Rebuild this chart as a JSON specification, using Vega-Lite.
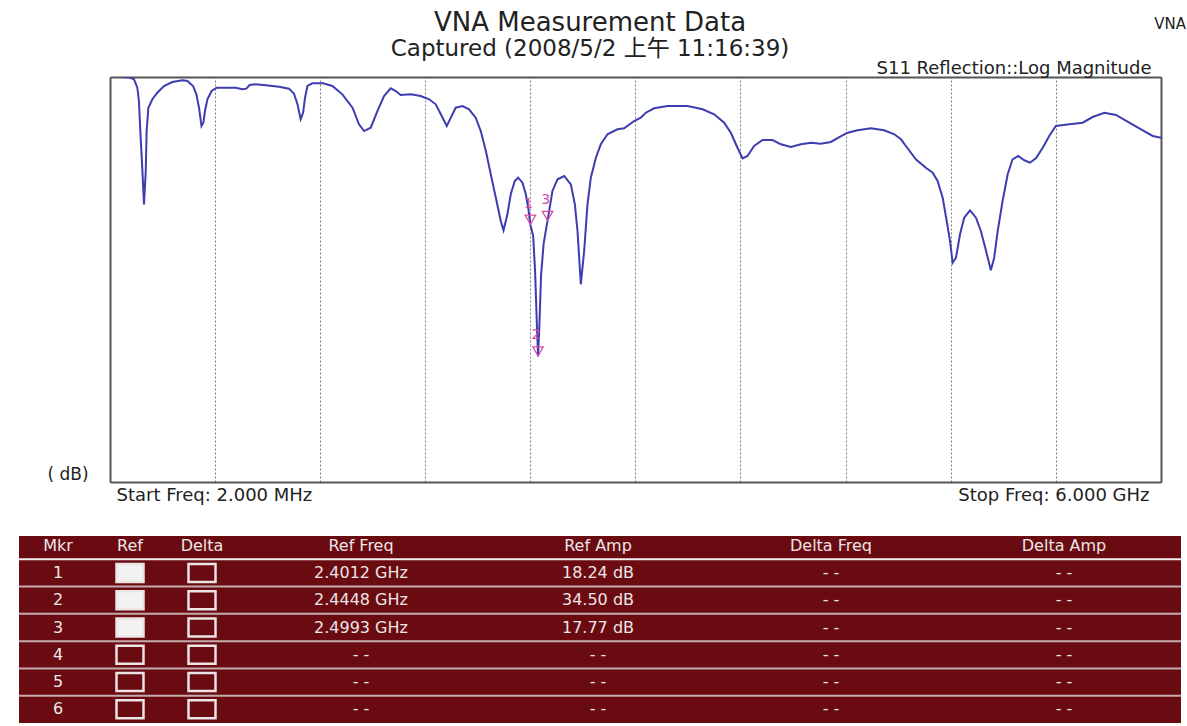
{
  "$schema": "https://vega.github.io/schema/vega-lite/v6.json",
  "background": "white",
  "padding": {"left": 18, "top": 10, "right": 0, "bottom": 0},
  "config": {"font": "DejaVu Sans", "title": {"fontWeight": "normal", "color": "#222"}},
  "title": {"text": "VNA", "anchor": "end", "frame": "bounds", "fontSize": 15, "color": "#222", "offset": -22, "dx": 4},
  "spacing": 32,
  "datasets": {
    "trace": [
      {"f": 0.074, "db": 0.0}, {"f": 0.110, "db": 0.05}, {"f": 0.139, "db": 0.28}, {"f": 0.158, "db": 1.32}, {"f": 0.167, "db": 2.96},
      {"f": 0.177, "db": 7.49}, {"f": 0.187, "db": 11.6}, {"f": 0.196, "db": 15.72}, {"f": 0.206, "db": 11.6}, {"f": 0.211, "db": 6.67},
      {"f": 0.221, "db": 3.79}, {"f": 0.244, "db": 2.75}, {"f": 0.272, "db": 1.94}, {"f": 0.310, "db": 1.11}, {"f": 0.358, "db": 0.62},
      {"f": 0.415, "db": 0.41}, {"f": 0.444, "db": 0.49}, {"f": 0.476, "db": 1.11}, {"f": 0.495, "db": 2.14}, {"f": 0.510, "db": 3.79},
      {"f": 0.524, "db": 6.05}, {"f": 0.535, "db": 5.64}, {"f": 0.544, "db": 4.2}, {"f": 0.558, "db": 2.75}, {"f": 0.582, "db": 1.73},
      {"f": 0.611, "db": 1.32}, {"f": 0.662, "db": 1.32}, {"f": 0.719, "db": 1.32}, {"f": 0.758, "db": 1.52}, {"f": 0.780, "db": 1.44},
      {"f": 0.799, "db": 0.99}, {"f": 0.833, "db": 0.9}, {"f": 0.891, "db": 1.02}, {"f": 0.967, "db": 1.2}, {"f": 1.024, "db": 1.44},
      {"f": 1.052, "db": 2.06}, {"f": 1.072, "db": 3.37}, {"f": 1.090, "db": 5.22}, {"f": 1.104, "db": 4.41}, {"f": 1.115, "db": 2.56},
      {"f": 1.129, "db": 1.11}, {"f": 1.157, "db": 0.78}, {"f": 1.218, "db": 0.78}, {"f": 1.271, "db": 1.11}, {"f": 1.328, "db": 2.14},
      {"f": 1.386, "db": 3.79}, {"f": 1.423, "db": 5.84}, {"f": 1.452, "db": 6.67}, {"f": 1.490, "db": 6.26}, {"f": 1.528, "db": 4.2},
      {"f": 1.566, "db": 2.35}, {"f": 1.604, "db": 1.4}, {"f": 1.633, "db": 1.73}, {"f": 1.661, "db": 2.22}, {"f": 1.718, "db": 2.14},
      {"f": 1.775, "db": 2.35}, {"f": 1.823, "db": 2.75}, {"f": 1.861, "db": 3.37}, {"f": 1.890, "db": 4.6}, {"f": 1.924, "db": 6.05},
      {"f": 1.947, "db": 5.02}, {"f": 1.975, "db": 3.79}, {"f": 2.014, "db": 3.58}, {"f": 2.051, "db": 3.99}, {"f": 2.089, "db": 5.02},
      {"f": 2.118, "db": 6.67}, {"f": 2.147, "db": 9.14}, {"f": 2.175, "db": 12.01}, {"f": 2.204, "db": 14.9}, {"f": 2.232, "db": 17.78},
      {"f": 2.248, "db": 18.93}, {"f": 2.270, "db": 16.95}, {"f": 2.289, "db": 14.48}, {"f": 2.312, "db": 12.84}, {"f": 2.331, "db": 12.43},
      {"f": 2.356, "db": 13.05}, {"f": 2.375, "db": 14.48}, {"f": 2.390, "db": 16.3}, {"f": 2.401, "db": 18.24}, {"f": 2.417, "db": 19.6},
      {"f": 2.428, "db": 24.0}, {"f": 2.438, "db": 30.5}, {"f": 2.445, "db": 34.5}, {"f": 2.452, "db": 31.0}, {"f": 2.462, "db": 24.5},
      {"f": 2.477, "db": 20.5}, {"f": 2.499, "db": 17.77}, {"f": 2.527, "db": 14.07}, {"f": 2.556, "db": 12.63}, {"f": 2.594, "db": 12.22},
      {"f": 2.632, "db": 13.25}, {"f": 2.655, "db": 15.72}, {"f": 2.670, "db": 19.01}, {"f": 2.689, "db": 25.59}, {"f": 2.708, "db": 21.48},
      {"f": 2.727, "db": 15.72}, {"f": 2.746, "db": 12.43}, {"f": 2.775, "db": 9.96}, {"f": 2.803, "db": 8.31}, {"f": 2.841, "db": 7.07},
      {"f": 2.898, "db": 6.46}, {"f": 2.936, "db": 6.33}, {"f": 2.993, "db": 5.43}, {"f": 3.031, "db": 5.02}, {"f": 3.060, "db": 4.41},
      {"f": 3.107, "db": 3.86}, {"f": 3.184, "db": 3.58}, {"f": 3.298, "db": 3.58}, {"f": 3.384, "db": 3.99}, {"f": 3.450, "db": 4.6},
      {"f": 3.507, "db": 5.64}, {"f": 3.545, "db": 6.88}, {"f": 3.583, "db": 8.73}, {"f": 3.612, "db": 10.04}, {"f": 3.640, "db": 9.75},
      {"f": 3.678, "db": 8.52}, {"f": 3.726, "db": 7.78}, {"f": 3.783, "db": 7.78}, {"f": 3.831, "db": 8.31}, {"f": 3.888, "db": 8.64},
      {"f": 3.945, "db": 8.31}, {"f": 4.002, "db": 8.11}, {"f": 4.059, "db": 8.23}, {"f": 4.116, "db": 8.02}, {"f": 4.164, "db": 7.41},
      {"f": 4.212, "db": 6.88}, {"f": 4.268, "db": 6.58}, {"f": 4.345, "db": 6.33}, {"f": 4.420, "db": 6.58}, {"f": 4.478, "db": 7.07},
      {"f": 4.516, "db": 7.69}, {"f": 4.544, "db": 8.52}, {"f": 4.601, "db": 10.16}, {"f": 4.658, "db": 11.2}, {"f": 4.697, "db": 11.81},
      {"f": 4.725, "db": 12.84}, {"f": 4.754, "db": 14.9}, {"f": 4.777, "db": 17.78}, {"f": 4.796, "db": 20.25}, {"f": 4.811, "db": 22.93},
      {"f": 4.830, "db": 22.31}, {"f": 4.853, "db": 19.42}, {"f": 4.877, "db": 17.37}, {"f": 4.910, "db": 16.46}, {"f": 4.944, "db": 17.37},
      {"f": 4.972, "db": 19.01}, {"f": 4.997, "db": 21.07}, {"f": 5.029, "db": 23.86}, {"f": 5.048, "db": 22.31}, {"f": 5.068, "db": 19.01},
      {"f": 5.096, "db": 15.31}, {"f": 5.125, "db": 12.01}, {"f": 5.153, "db": 10.16}, {"f": 5.185, "db": 9.75}, {"f": 5.220, "db": 10.28},
      {"f": 5.252, "db": 10.58}, {"f": 5.286, "db": 10.04}, {"f": 5.325, "db": 8.73}, {"f": 5.362, "db": 7.28}, {"f": 5.400, "db": 6.05},
      {"f": 5.477, "db": 5.84}, {"f": 5.553, "db": 5.64}, {"f": 5.610, "db": 4.94}, {"f": 5.677, "db": 4.41}, {"f": 5.743, "db": 4.69},
      {"f": 5.819, "db": 5.64}, {"f": 5.896, "db": 6.58}, {"f": 5.953, "db": 7.28}, {"f": 6.000, "db": 7.49}
    ],
    "markers": [
      {"mkr": "1", "freq": 2.4012, "amp": 18.24},
      {"mkr": "2", "freq": 2.4448, "amp": 34.50},
      {"mkr": "3", "freq": 2.4993, "amp": 17.77}
    ],
    "tbl": [
      {"row": "hdr", "mkr": "Mkr", "ref": "Ref", "delta": "Delta", "rf": "Ref Freq", "ra": "Ref Amp", "df": "Delta Freq", "da": "Delta Amp", "on": false},
      {"row": "1", "mkr": "1", "ref": "", "delta": "", "rf": "2.4012 GHz", "ra": "18.24 dB", "df": "- -", "da": "- -", "on": true},
      {"row": "2", "mkr": "2", "ref": "", "delta": "", "rf": "2.4448 GHz", "ra": "34.50 dB", "df": "- -", "da": "- -", "on": true},
      {"row": "3", "mkr": "3", "ref": "", "delta": "", "rf": "2.4993 GHz", "ra": "17.77 dB", "df": "- -", "da": "- -", "on": true},
      {"row": "4", "mkr": "4", "ref": "", "delta": "", "rf": "- -", "ra": "- -", "df": "- -", "da": "- -", "on": false},
      {"row": "5", "mkr": "5", "ref": "", "delta": "", "rf": "- -", "ra": "- -", "df": "- -", "da": "- -", "on": false},
      {"row": "6", "mkr": "6", "ref": "", "delta": "", "rf": "- -", "ra": "- -", "df": "- -", "da": "- -", "on": false}
    ]
  },
  "vconcat": [
    {
      "width": 1142,
      "height": 405,
      "view": {"stroke": null},
      "title": {"text": "VNA Measurement Data", "subtitle": "Captured  (2008/5/2 上午 11:16:39)", "anchor": "middle", "frame": "bounds", "fontSize": 26, "subtitleFontSize": 23, "subtitleFont": "DejaVu Sans, Noto Sans CJK SC", "subtitleColor": "#222", "subtitlePadding": 2, "offset": -2},
      "resolve": {"axis": {"x": "independent", "y": "independent"}},
      "layer": [
        {
          "data": {"name": "trace"},
          "mark": {"type": "line", "color": "#3d3db0", "strokeWidth": 2, "clip": true},
          "encoding": {
            "x": {"field": "f", "type": "quantitative", "scale": {"domain": [0.002, 6], "range": [91, 1142], "nice": false, "zero": false},
              "axis": {"orient": "bottom", "values": [0.002, 0.6, 1.2, 1.8, 2.4, 3.0, 3.6, 4.2, 4.8, 5.4, 6.0], "title": null,
                "domain": true, "domainColor": "#555", "domainWidth": 2, "ticks": false, "tickSize": 0,
                "grid": true, "gridColor": "#808080", "gridDash": [2, 2], "gridWidth": 1,
                "gridOpacity": {"condition": {"test": "datum.value < 0.01 || datum.value > 5.99", "value": 0}, "value": 1},
                "labelExpr": "datum.value < 0.01 ? 'Start Freq: 2.000 MHz' : (datum.value > 5.99 ? 'Stop Freq: 6.000 GHz' : '')",
                "labelAlign": {"condition": {"test": "datum.value < 0.01", "value": "left"}, "value": "right"},
                "labelOffset": {"condition": {"test": "datum.value < 0.01", "value": 6}, "value": -12},
                "labelFontSize": 18, "labelColor": "#222", "labelPadding": 4, "labelBaseline": "top", "labelOverlap": false, "labelBound": false, "labelFlush": false, "labelLimit": 600}},
            "y": {"field": "db", "type": "quantitative", "scale": {"domain": [0, 50], "reverse": true, "nice": false, "zero": false},
              "axis": {"orient": "left", "offset": -91, "title": "( dB)", "labels": false, "ticks": false, "domain": true, "domainColor": "#555", "domainWidth": 2, "grid": false,
                "titleAngle": 0, "titleAlign": "left", "titleBaseline": "middle", "titleX": -63, "titleY": 397, "titleFontSize": 17, "titleFontWeight": "normal", "titleColor": "#222"}}
          }
        },
        {
          "data": {"name": "markers"},
          "mark": {"type": "point", "shape": "triangle-down", "filled": false, "color": "#d94aa8", "size": 110, "strokeWidth": 1.3, "yOffset": -5, "opacity": 1},
          "encoding": {
            "x": {"field": "freq", "type": "quantitative", "scale": {"domain": [0.002, 6], "range": [91, 1142], "nice": false, "zero": false},
              "axis": {"orient": "top", "title": "S11 Reflection::Log Magnitude", "labels": false, "ticks": false, "domain": true, "domainColor": "#555", "domainWidth": 2, "grid": false,
                "titleX": 1132, "titleY": -4, "titleAlign": "right", "titleBaseline": "alphabetic", "titleAngle": 0, "titleFontSize": 18, "titleFontWeight": "normal", "titleColor": "#222"}},
            "y": {"field": "amp", "type": "quantitative", "scale": {"domain": [0, 50], "reverse": true, "nice": false, "zero": false},
              "axis": {"orient": "right", "title": null, "labels": false, "ticks": false, "domain": true, "domainColor": "#555", "domainWidth": 2, "grid": false}}
          }
        },
        {
          "data": {"name": "markers"},
          "mark": {"type": "text", "color": "#d94aa8", "fontSize": 14, "dy": -21, "dx": -2},
          "encoding": {
            "x": {"field": "freq", "type": "quantitative", "scale": {"domain": [0.002, 6], "range": [91, 1142], "nice": false, "zero": false}, "axis": null},
            "y": {"field": "amp", "type": "quantitative", "scale": {"domain": [0, 50], "reverse": true, "nice": false, "zero": false}, "axis": null},
            "text": {"field": "mkr"}
          }
        }
      ]
    },
    {
      "spacing": 0,
      "bounds": "flush",
      "hconcat": [
        {
          "width": 78, "height": 187, "view": {"fill": "#6a0b12", "stroke": null}, "data": {"name": "tbl"},
          "layer": [
            {"mark": {"type": "rule", "strokeWidth": 2}, "transform": [{"filter": "datum.row != '6'"}],
              "encoding": {"y": {"field": "row", "type": "ordinal", "bandPosition": 1, "scale": {"type": "band", "domain": ["hdr", "1", "2", "3", "4", "5", "6"], "range": [-4, 187], "paddingInner": 0, "paddingOuter": 0}, "axis": null},
                "color": {"condition": {"test": "datum.row == 'hdr'", "value": "#f4f0f0"}, "value": "#c4acae"}}},
            {"mark": {"type": "text", "fontSize": 16, "color": "#ece6e6"},
              "encoding": {"y": {"field": "row", "type": "ordinal", "scale": {"type": "band", "domain": ["hdr", "1", "2", "3", "4", "5", "6"], "range": [-4, 187], "paddingInner": 0, "paddingOuter": 0}, "axis": null}, "text": {"field": "mkr"}}}
          ]
        },
        {
          "width": 66, "height": 187, "view": {"fill": "#6a0b12", "stroke": null}, "data": {"name": "tbl"},
          "layer": [
            {"mark": {"type": "rule", "strokeWidth": 2}, "transform": [{"filter": "datum.row != '6'"}],
              "encoding": {"y": {"field": "row", "type": "ordinal", "bandPosition": 1, "scale": {"type": "band", "domain": ["hdr", "1", "2", "3", "4", "5", "6"], "range": [-4, 187], "paddingInner": 0, "paddingOuter": 0}, "axis": null},
                "color": {"condition": {"test": "datum.row == 'hdr'", "value": "#f4f0f0"}, "value": "#c4acae"}}},
            {"mark": {"type": "text", "fontSize": 16, "color": "#ece6e6"},
              "encoding": {"y": {"field": "row", "type": "ordinal", "scale": {"type": "band", "domain": ["hdr", "1", "2", "3", "4", "5", "6"], "range": [-4, 187], "paddingInner": 0, "paddingOuter": 0}, "axis": null}, "text": {"field": "ref"}}},
            {"mark": {"type": "point", "shape": "M-1.5,-1H1.5V1H-1.5Z", "size": 324, "strokeWidth": 2.5, "stroke": "#ece4e4", "filled": true, "opacity": 1},
              "transform": [{"filter": "datum.row != 'hdr'"}],
              "encoding": {"y": {"field": "row", "type": "ordinal", "scale": {"type": "band", "domain": ["hdr", "1", "2", "3", "4", "5", "6"], "range": [-4, 187], "paddingInner": 0, "paddingOuter": 0}, "axis": null},
                "fill": {"condition": {"test": "datum.on", "value": "#f2f2f2"}, "value": "transparent"}}}
          ]
        },
        {
          "width": 78, "height": 187, "view": {"fill": "#6a0b12", "stroke": null}, "data": {"name": "tbl"},
          "layer": [
            {"mark": {"type": "rule", "strokeWidth": 2}, "transform": [{"filter": "datum.row != '6'"}],
              "encoding": {"y": {"field": "row", "type": "ordinal", "bandPosition": 1, "scale": {"type": "band", "domain": ["hdr", "1", "2", "3", "4", "5", "6"], "range": [-4, 187], "paddingInner": 0, "paddingOuter": 0}, "axis": null},
                "color": {"condition": {"test": "datum.row == 'hdr'", "value": "#f4f0f0"}, "value": "#c4acae"}}},
            {"mark": {"type": "text", "fontSize": 16, "color": "#ece6e6"},
              "encoding": {"y": {"field": "row", "type": "ordinal", "scale": {"type": "band", "domain": ["hdr", "1", "2", "3", "4", "5", "6"], "range": [-4, 187], "paddingInner": 0, "paddingOuter": 0}, "axis": null}, "text": {"field": "delta"}}},
            {"mark": {"type": "point", "shape": "M-1.5,-1H1.5V1H-1.5Z", "size": 324, "strokeWidth": 2.5, "stroke": "#ece4e4", "fill": "transparent", "filled": true, "opacity": 1},
              "transform": [{"filter": "datum.row != 'hdr'"}],
              "encoding": {"y": {"field": "row", "type": "ordinal", "scale": {"type": "band", "domain": ["hdr", "1", "2", "3", "4", "5", "6"], "range": [-4, 187], "paddingInner": 0, "paddingOuter": 0}, "axis": null}}}
          ]
        },
        {
          "width": 240, "height": 187, "view": {"fill": "#6a0b12", "stroke": null}, "data": {"name": "tbl"},
          "layer": [
            {"mark": {"type": "rule", "strokeWidth": 2}, "transform": [{"filter": "datum.row != '6'"}],
              "encoding": {"y": {"field": "row", "type": "ordinal", "bandPosition": 1, "scale": {"type": "band", "domain": ["hdr", "1", "2", "3", "4", "5", "6"], "range": [-4, 187], "paddingInner": 0, "paddingOuter": 0}, "axis": null},
                "color": {"condition": {"test": "datum.row == 'hdr'", "value": "#f4f0f0"}, "value": "#c4acae"}}},
            {"mark": {"type": "text", "fontSize": 16, "color": "#ece6e6"},
              "encoding": {"y": {"field": "row", "type": "ordinal", "scale": {"type": "band", "domain": ["hdr", "1", "2", "3", "4", "5", "6"], "range": [-4, 187], "paddingInner": 0, "paddingOuter": 0}, "axis": null}, "text": {"field": "rf"}}}
          ]
        },
        {
          "width": 234, "height": 187, "view": {"fill": "#6a0b12", "stroke": null}, "data": {"name": "tbl"},
          "layer": [
            {"mark": {"type": "rule", "strokeWidth": 2}, "transform": [{"filter": "datum.row != '6'"}],
              "encoding": {"y": {"field": "row", "type": "ordinal", "bandPosition": 1, "scale": {"type": "band", "domain": ["hdr", "1", "2", "3", "4", "5", "6"], "range": [-4, 187], "paddingInner": 0, "paddingOuter": 0}, "axis": null},
                "color": {"condition": {"test": "datum.row == 'hdr'", "value": "#f4f0f0"}, "value": "#c4acae"}}},
            {"mark": {"type": "text", "fontSize": 16, "color": "#ece6e6"},
              "encoding": {"y": {"field": "row", "type": "ordinal", "scale": {"type": "band", "domain": ["hdr", "1", "2", "3", "4", "5", "6"], "range": [-4, 187], "paddingInner": 0, "paddingOuter": 0}, "axis": null}, "text": {"field": "ra"}}}
          ]
        },
        {
          "width": 232, "height": 187, "view": {"fill": "#6a0b12", "stroke": null}, "data": {"name": "tbl"},
          "layer": [
            {"mark": {"type": "rule", "strokeWidth": 2}, "transform": [{"filter": "datum.row != '6'"}],
              "encoding": {"y": {"field": "row", "type": "ordinal", "bandPosition": 1, "scale": {"type": "band", "domain": ["hdr", "1", "2", "3", "4", "5", "6"], "range": [-4, 187], "paddingInner": 0, "paddingOuter": 0}, "axis": null},
                "color": {"condition": {"test": "datum.row == 'hdr'", "value": "#f4f0f0"}, "value": "#c4acae"}}},
            {"mark": {"type": "text", "fontSize": 16, "color": "#ece6e6"},
              "encoding": {"y": {"field": "row", "type": "ordinal", "scale": {"type": "band", "domain": ["hdr", "1", "2", "3", "4", "5", "6"], "range": [-4, 187], "paddingInner": 0, "paddingOuter": 0}, "axis": null}, "text": {"field": "df"}}}
          ]
        },
        {
          "width": 234, "height": 187, "view": {"fill": "#6a0b12", "stroke": null}, "data": {"name": "tbl"},
          "layer": [
            {"mark": {"type": "rule", "strokeWidth": 2}, "transform": [{"filter": "datum.row != '6'"}],
              "encoding": {"y": {"field": "row", "type": "ordinal", "bandPosition": 1, "scale": {"type": "band", "domain": ["hdr", "1", "2", "3", "4", "5", "6"], "range": [-4, 187], "paddingInner": 0, "paddingOuter": 0}, "axis": null},
                "color": {"condition": {"test": "datum.row == 'hdr'", "value": "#f4f0f0"}, "value": "#c4acae"}}},
            {"mark": {"type": "text", "fontSize": 16, "color": "#ece6e6"},
              "encoding": {"y": {"field": "row", "type": "ordinal", "scale": {"type": "band", "domain": ["hdr", "1", "2", "3", "4", "5", "6"], "range": [-4, 187], "paddingInner": 0, "paddingOuter": 0}, "axis": null}, "text": {"field": "da"}}}
          ]
        }
      ]
    }
  ]
}
